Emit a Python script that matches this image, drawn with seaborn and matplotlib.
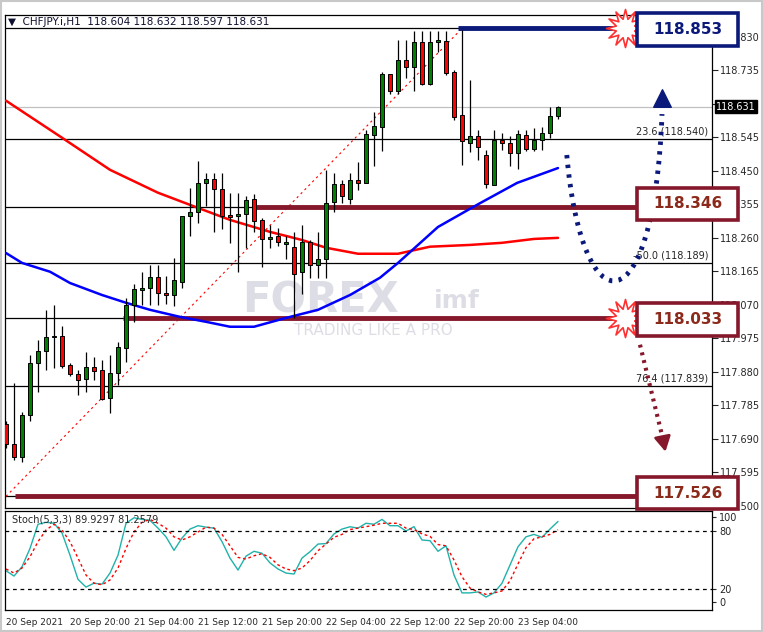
import numpy as np
import pandas as pd
import matplotlib
matplotlib.use("Agg")
import matplotlib.pyplot as plt
import seaborn as sns
from matplotlib.patches import Rectangle, PathPatch, Circle
from matplotlib.path import Path
import matplotlib.transforms as mtrans

sns.set_style("white")
plt.rcParams['font.family'] = ['DejaVu Sans']

# ---------------- data ----------------
opens = [117.732,117.675,117.638,117.757,117.905,117.939,117.978,117.981,117.899,117.873,
         117.859,117.893,117.885,117.805,117.876,117.947,118.069,118.112,118.117,118.148,
         118.103,118.097,118.134,118.321,118.333,118.415,118.426,118.398,118.321,118.321,
         118.327,118.370,118.310,118.256,118.265,118.242,118.234,118.163,118.248,118.182,
         118.199,118.361,118.412,118.370,118.424,118.415,118.551,118.574,118.724,118.676,
         118.764,118.744,118.815,118.696,118.815,118.818,118.730,118.608,118.528,118.548,
         118.494,118.409,118.537,118.528,118.500,118.551,118.511,118.537,118.557,118.604]
highs = [117.740,117.848,117.766,117.927,117.970,118.055,118.069,118.009,117.905,117.885,
         117.936,117.922,117.913,117.927,117.964,118.089,118.129,118.163,118.182,118.182,
         118.151,118.202,118.321,118.401,118.477,118.443,118.443,118.443,118.387,118.387,
         118.378,118.384,118.316,118.296,118.287,118.265,118.276,118.296,118.253,118.276,
         118.452,118.443,118.424,118.443,118.475,118.565,118.616,118.730,118.724,118.821,
         118.821,118.846,118.846,118.846,118.846,118.846,118.735,118.849,118.707,118.565,
         118.509,118.565,118.557,118.548,118.565,118.565,118.571,118.574,118.631,118.632]
lows = [117.663,117.629,117.624,117.740,117.822,117.885,117.890,117.890,117.868,117.814,
        117.822,117.856,117.800,117.763,117.842,117.907,118.021,118.069,118.069,118.069,
        118.072,118.066,118.117,118.265,118.302,118.350,118.276,118.285,118.245,118.163,
        118.231,118.276,118.177,118.231,118.236,118.199,118.032,118.100,118.146,118.146,
        118.146,118.333,118.358,118.355,118.395,118.415,118.463,118.506,118.667,118.667,
        118.713,118.676,118.693,118.693,118.787,118.721,118.594,118.466,118.503,118.480,
        118.401,118.409,118.509,118.463,118.455,118.506,118.506,118.509,118.543,118.597]
closes = [117.675,117.638,117.757,117.905,117.939,117.978,117.981,117.896,117.873,117.856,
          117.893,117.882,117.802,117.876,117.950,118.069,118.114,118.117,118.148,118.103,
          118.097,118.140,118.321,118.333,118.415,118.426,118.398,118.321,118.319,118.327,
          118.367,118.307,118.256,118.262,118.248,118.243,118.157,118.248,118.182,118.199,
          118.358,118.412,118.378,118.424,118.415,118.554,118.577,118.724,118.676,118.764,
          118.744,118.815,118.696,118.815,118.818,118.727,118.602,118.534,118.548,118.517,
          118.412,118.537,118.528,118.500,118.554,118.511,118.537,118.557,118.605,118.631]

ma_red_idx = [0, 7, 13, 19, 24, 28, 33, 37, 40, 44, 49, 53, 58, 62, 66, 69]
ma_red_val = [118.648,118.543,118.452,118.387,118.344,118.310,118.276,118.253,118.231,
              118.214,118.214,118.234,118.239,118.245,118.256,118.259]
ma_blue_idx = [0, 2, 5.5, 8, 12, 15, 18, 21.75, 25, 28, 31, 35, 39, 43, 46.75, 49, 54, 58.9, 63.9, 69]
ma_blue_val = [118.216,118.188,118.163,118.131,118.097,118.075,118.055,118.035,118.021,118.007,
               118.007,118.032,118.055,118.097,118.146,118.188,118.290,118.353,118.415,118.457]

stoch_k = [38.9,33.4,43,62,87,89,88,78,55,30,22,26,25,36.5,55,88,93.7,92,91,83,
           74,60,72.7,82,85.5,84,83,69,52,39.6,54,59,57,47,40.7,36.5,35.5,52,58.6,66.5,
           67,77,82,84.4,83,88,87,92,85.5,85.5,80,84.5,70.7,70,59,64.7,34.5,16,16,17,
           11.7,16,26,44.8,63.7,74,76.5,73.5,82,89.9]
stoch_d = [40.7,36.5,41.7,53.4,69,81,87,81,69,52,34.5,26,24.4,29.3,41.7,62,79,89,92,88,
           83,74,70.7,74,79,84,83,76.5,64.7,52.7,51,54.4,56.5,52.7,45,40.7,39,41.7,49.4,59.6,
           66.5,73.5,76.5,81.5,83,84.5,86,88,88,88,83,81.5,77,74.5,66,64.7,50,32.7,21,17,
           14.5,16,18,28.4,46,62.8,72,74,76.5,81.3]

fib_levels = [118.853, 118.540, 118.346, 118.189, 118.033, 117.839, 117.526]
fib_labels = {118.540: "23.6 (118.540)", 118.189: "-50.0 (118.189)", 117.839: "76.4 (117.839)"}
price_ticks = [118.830,118.735,118.640,118.545,118.450,118.355,118.260,118.165,118.070,
               117.975,117.880,117.785,117.690,117.595,117.500]
date_ticks = [0, 8, 16, 24, 32, 40, 48, 56, 64]
date_labels = ["20 Sep 2021","20 Sep 20:00","21 Sep 04:00","21 Sep 12:00","21 Sep 20:00",
               "22 Sep 04:00","22 Sep 12:00","22 Sep 20:00","23 Sep 04:00"]
current_price = 118.631

df = pd.DataFrame({"i": np.arange(len(opens)), "o": opens, "h": highs, "l": lows, "c": closes})

# ---------------- figure ----------------
W, H = 763, 632
fig = plt.figure(figsize=(W/100, H/100), dpi=100)
fig.patch.set_facecolor("white")
ax = fig.add_axes([5/W, 1-508/H, 707/W, 493/H])
ax2 = fig.add_axes([5/W, 1-610/H, 707/W, 99/H])
fig.patches.append(Rectangle((1/W, 1/H), 1-2/W, 1-2/H, transform=fig.transFigure,
                             fill=False, ec="#c8c8c8", lw=1.5))

XL = (-0.125, 88.25)
ax.set_xlim(*XL)
ax.set_ylim(117.493, 118.891)

for lv in fib_levels:
    ax.axhline(lv, color="black", lw=0.9, zorder=1)
ax.axhline(current_price, color="#c0c0c0", lw=0.9, zorder=1)
ax.plot([0, 57], [117.526, 118.853], color="red", ls=(0, (2, 3)), lw=0.8, zorder=1.5)

ax.plot([1.1, 78.9], [117.526, 117.526], color="#86182b", lw=3.5, zorder=2, solid_capstyle="butt")
ax.plot([14.6, 78.9], [118.033, 118.033], color="#86182b", lw=3.5, zorder=2, solid_capstyle="butt")
ax.plot([30.9, 78.9], [118.346, 118.346], color="#86182b", lw=3.5, zorder=2, solid_capstyle="butt")
ax.plot([56.5, 76.5], [118.853, 118.853], color="#0b1a7a", lw=3.5, zorder=2, solid_capstyle="butt")

sns.lineplot(x=ma_red_idx, y=ma_red_val, ax=ax, color="#ff0000", lw=1.8, zorder=3)
sns.lineplot(x=ma_blue_idx, y=ma_blue_val, ax=ax, color="#0000ff", lw=1.8, zorder=3)

up = df["c"] >= df["o"]
ax.vlines(df["i"], df["l"], df["h"], color="black", lw=0.9, zorder=4)
body_h = (df["c"] - df["o"]).abs().clip(lower=0.004)
ax.bar(df["i"], body_h, bottom=np.minimum(df["o"], df["c"]), width=0.62,
       color=np.where(up, "#008000", "#ff0000"), edgecolor="black", lw=0.7, zorder=5)

# watermark
wm = "#7a7f9a"
ax.text(29.5, 118.08, "FOREX", fontsize=30, fontweight="bold", color=wm, alpha=0.25,
        ha="left", va="center", zorder=0)
ax.text(53.5, 118.08, "imf", fontsize=18, fontweight="bold", color=wm, alpha=0.25,
        ha="left", va="center", zorder=0)
ax.text(36, 117.995, "TRADING LIKE A PRO", fontsize=11, color=wm, alpha=0.25,
        ha="left", va="center", zorder=0)

for lv, lab in fib_labels.items():
    ax.text(87.8, lv + 0.006, lab, fontsize=7, ha="right", va="bottom", zorder=6)

verts = [(70.1, 118.494), (72.0, 118.0), (81.0, 118.0), (82.0, 118.61)]
pp = PathPatch(Path(verts, [Path.MOVETO, Path.CURVE4, Path.CURVE4, Path.CURVE4]),
               fill=False, ec="#0b1a7a", lw=3.5, ls=(0, (0.7, 1.3)), zorder=7)
ax.add_patch(pp)
ax.scatter([82.0], [118.655], marker="^", s=160, color="#0b1a7a", zorder=7)
ax.plot([79.25, 82.1], [117.956, 117.69], color="#86182b", lw=3, ls=(0, (0.7, 1.2)), zorder=7)
ax.annotate("", xy=(82.5, 117.645), xytext=(82.1, 117.69),
            arrowprops=dict(arrowstyle="-|>,head_width=0.5,head_length=0.9", color="#86182b", lw=2),
            zorder=7)

ax.scatter([77.4, 77.4], [118.853, 118.033], marker=(12, 1, 0), s=750, facecolor="white",
           edgecolor="#ff3030", lw=1.2, zorder=8, clip_on=False)

boxes = [(118.804, 118.897, "#0b1a7a", "118.853"),
         (118.310, 118.401, "#86182b", "118.346"),
         (117.981, 118.075, "#86182b", "118.033"),
         (117.490, 117.581, "#86182b", "117.526")]
for y0, y1, col, lab in boxes:
    r = Rectangle((78.9, y0), 12.6, y1 - y0, fc="white", ec=col, lw=2.6, zorder=9, clip_on=False)
    ax.add_patch(r)
    ax.text(78.9 + 6.3, (y0 + y1) / 2, lab, color=col if col != "#86182b" else "#8b2a1a",
            fontsize=11, fontweight="bold", ha="center", va="center", zorder=10, clip_on=False)

ax.yaxis.tick_right()
ax.set_yticks(price_ticks)
ax.set_yticklabels(["" if abs(p - 118.640) < 1e-6 else f"{p:.3f}" for p in price_ticks], fontsize=7)
ax.tick_params(axis="y", length=4, direction="out", pad=2)
ax.set_xticks(date_ticks)
ax.set_xticklabels([])
ax.tick_params(axis="x", length=3, direction="in")
for s in ax.spines.values():
    s.set_color("black"); s.set_linewidth(0.9)
ax.set_xlabel(""); ax.set_ylabel("")
ax.text(1.006, current_price, "118.631", transform=mtrans.blended_transform_factory(ax.transAxes, ax.transData),
        fontsize=7, color="white", va="center", ha="left", zorder=11, clip_on=False,
        bbox=dict(boxstyle="square,pad=0.15", fc="black", ec="black"))
ax.text(0.004, 0.995, "\u25BC  CHFJPY.i,H1  118.604 118.632 118.597 118.631", transform=ax.transAxes,
        fontsize=7.5, va="top", ha="left", color="#101030")

idx = np.arange(len(stoch_k))
sns.lineplot(x=idx, y=stoch_k, ax=ax2, color="#20b2aa", lw=1.0)
sns.lineplot(x=idx, y=stoch_d, ax=ax2, color="#ff0000", lw=1.0, linestyle=(0, (2, 2)))
ax2.axhline(80, color="black", ls=(0, (3, 3)), lw=0.9)
ax2.axhline(20, color="black", ls=(0, (3, 3)), lw=0.9)
ax2.set_xlim(*XL)
ax2.set_ylim(-1.7, 100.7)
ax2.yaxis.tick_right()
ax2.set_yticks([94.5, 80, 20, 6.6])
ax2.set_yticklabels(["100", "80", "20", "0"], fontsize=7)
ax2.tick_params(axis="y", length=3, pad=2)
ax2.set_xticks(date_ticks)
ax2.set_xticklabels(date_labels, fontsize=6.5)
for lab in ax2.get_xticklabels():
    lab.set_ha("left")
ax2.tick_params(axis="x", length=4, direction="out", pad=2)
for s in ax2.spines.values():
    s.set_color("black"); s.set_linewidth(0.9)
ax2.set_xlabel(""); ax2.set_ylabel("")
ax2.text(0.01, 0.96, "Stoch(5,3,3) 89.9297 81.2579", transform=ax2.transAxes, fontsize=7,
         va="top", ha="left")

fig.savefig("out.png", dpi=100)
